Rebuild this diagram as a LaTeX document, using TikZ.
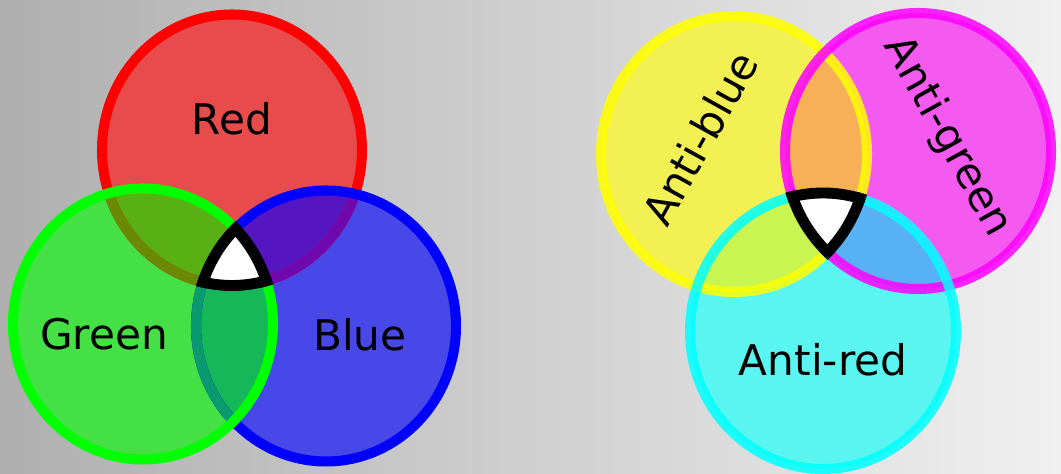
\documentclass[tikz,border=0pt]{standalone}
\usepackage{fontspec}
\setmainfont{DejaVu Sans}
\definecolor{bgL}{HTML}{AFAFAF}
\definecolor{bgR}{HTML}{F0F0F0}
% additive side
\definecolor{redfill}{HTML}{E84B4B}
\definecolor{greenfill}{HTML}{45E045}
\definecolor{bluefill}{HTML}{4848E8}
\definecolor{rgfill}{HTML}{58B015}
\definecolor{rbfill}{HTML}{5515C0}
\definecolor{gbfill}{HTML}{15B858}
\definecolor{redrim}{HTML}{FF0000}
\definecolor{greenrim}{HTML}{00FF00}
\definecolor{bluerim}{HTML}{0000FF}
\definecolor{rgrim}{HTML}{6A8A05}
\definecolor{rbrim}{HTML}{7008B0}
\definecolor{gbrim}{HTML}{0A9A70}
% subtractive side
\definecolor{yelfill}{HTML}{F2F052}
\definecolor{magfill}{HTML}{F55AF0}
\definecolor{cyanfill}{HTML}{5AF5F0}
\definecolor{ymfill}{HTML}{F8B058}
\definecolor{ycfill}{HTML}{C8F550}
\definecolor{mcfill}{HTML}{58B0F5}
\definecolor{yelrim}{HTML}{FFFF00}
\definecolor{magrim}{HTML}{FF00FF}
\definecolor{cyanrim}{HTML}{00FFFF}

\begin{document}
\begin{tikzpicture}[x=0.01cm, y=-0.01cm,
  ring/.style={x radius=130, y radius=135.5},
  ringout/.style={x radius=135.5, y radius=141},
  aring/.style={x radius=133, y radius=138},
  aringout/.style={x radius=138.5, y radius=143.5},
  rim/.style={line width=2.85pt},
  gate/.style={line width=3.1pt, draw=black},
  lbl/.style={font=\fontsize{12}{14}\selectfont, text=black, inner sep=0pt},
]

% background
\shade[left color=bgL, right color=bgR] (0,0) rectangle (1061,474);
\useasboundingbox (0,0) rectangle (1061,474);

% centres
\coordinate (R) at (232,150);
\coordinate (G) at (143,324);
\coordinate (B) at (326,326);
\coordinate (Y) at (734,154);
\coordinate (M) at (918,151);
\coordinate (C) at (823,331);

% ---- Left: Red / Green / Blue ----
\fill[redfill] (R) ellipse[ring];
\fill[bluefill] (B) ellipse[ring];
\fill[greenfill] (G) ellipse[ring];

% pairwise overlaps
\begin{scope} \clip (R) ellipse[ring]; \fill[rgfill] (G) ellipse[ring]; \end{scope}
\begin{scope} \clip (R) ellipse[ring]; \fill[rbfill] (B) ellipse[ring]; \end{scope}
\begin{scope} \clip (G) ellipse[ring]; \fill[gbfill] (B) ellipse[ring]; \end{scope}

% rims (red under blue and green, blue under green)
\draw[rim, redrim] (R) ellipse[ring];
\begin{scope} \clip (B) ellipse[ring]; \draw[rim, rbrim] (R) ellipse[ring]; \end{scope}
\begin{scope} \clip (G) ellipse[ring]; \draw[rim, rgrim] (R) ellipse[ring]; \end{scope}
\draw[rim, bluerim] (B) ellipse[ring];
\begin{scope} \clip (G) ellipse[ring]; \draw[rim, gbrim] (B) ellipse[ring]; \end{scope}
\draw[rim, greenrim] (G) ellipse[ring];

% white centre
\begin{scope} \clip (R) ellipse[ring]; \clip (G) ellipse[ring]; \fill[white] (B) ellipse[ring]; \end{scope}
\begin{scope} \clip (G) ellipse[ringout]; \clip (B) ellipse[ringout]; \draw[gate] (R) ellipse[ring]; \end{scope}
\begin{scope} \clip (R) ellipse[ringout]; \clip (B) ellipse[ringout]; \draw[gate] (G) ellipse[ring]; \end{scope}
\begin{scope} \clip (R) ellipse[ringout]; \clip (G) ellipse[ringout]; \draw[gate] (B) ellipse[ring]; \end{scope}

\node[lbl] (redtxt) at (232,119) {Red};
\node[lbl] (greentxt) at (104,334) {Green};
\node[lbl] (bluetxt) at (360,335) {Blue};

% ---- Right: Anti-blue / Anti-green / Anti-red ----
\fill[yelfill] (Y) ellipse[aring];
\fill[magfill] (M) ellipse[aring];
\fill[cyanfill] (C) ellipse[aring];

% pairwise overlaps
\begin{scope} \clip (Y) ellipse[aring]; \fill[ymfill] (M) ellipse[aring]; \end{scope}
\begin{scope} \clip (Y) ellipse[aring]; \fill[ycfill] (C) ellipse[aring]; \end{scope}
\begin{scope} \clip (M) ellipse[aring]; \fill[mcfill] (C) ellipse[aring]; \end{scope}

% rims
\draw[rim, yelrim, draw opacity=0.85] (Y) ellipse[aring];
\draw[rim, magrim, draw opacity=0.85] (M) ellipse[aring];
\draw[rim, cyanrim, draw opacity=0.85] (C) ellipse[aring];

% white centre
\begin{scope} \clip (Y) ellipse[aring]; \clip (M) ellipse[aring]; \fill[white] (C) ellipse[aring]; \end{scope}
\begin{scope} \clip (M) ellipse[aringout]; \clip (C) ellipse[aringout]; \draw[gate] (Y) ellipse[aring]; \end{scope}
\begin{scope} \clip (Y) ellipse[aringout]; \clip (C) ellipse[aringout]; \draw[gate] (M) ellipse[aring]; \end{scope}
\begin{scope} \clip (Y) ellipse[aringout]; \clip (M) ellipse[aringout]; \draw[gate] (C) ellipse[aring]; \end{scope}

\node[lbl, rotate=61] (antiblue) at (700,138) {Anti-blue};
\node[lbl, rotate=-61] (antigreen) at (947,137) {Anti-green};
\node[lbl] (antired) at (823,360) {Anti-red};

\end{tikzpicture}
\end{document}
